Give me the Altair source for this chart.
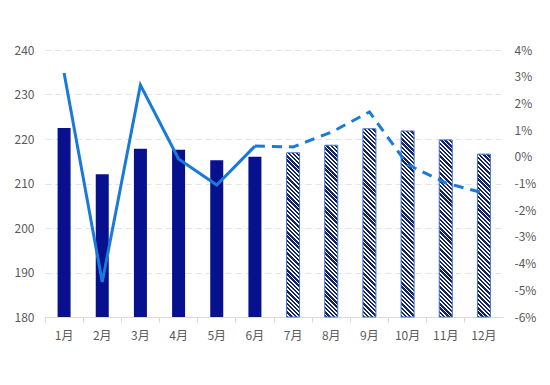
import math
import altair as alt
import pandas as pd

months = ["1月", "2月", "3月", "4月", "5月", "6月", "7月", "8月", "9月", "10月", "11月", "12月"]
volume = [222.5, 212.1, 217.8, 217.6, 215.2, 216.0, 216.9, 218.6, 222.3, 221.8, 219.8, 216.6]
growth = [3.14, -4.69, 2.69, -0.08, -1.06, 0.40, 0.37, 0.92, 1.68, -0.29, -0.98, -1.36]
actual_months = 6

left_ticks = [180, 190, 200, 210, 220, 230, 240]
right_ticks = [-6, -5, -4, -3, -2, -1, 0, 1, 2, 3, 4]

W, H = 458, 267
BAR_W = 13
FONT = "Noto Sans CJK SC"
LABEL_COLOR = "#595959"

df = pd.DataFrame({
    "month": months,
    "volume": volume,
    "growth": growth,
    "idx": list(range(1, len(months) + 1)),
})

x_enc = alt.X("month:N", sort=months, title=None,
              scale=alt.Scale(paddingInner=0, paddingOuter=0),
              axis=alt.Axis(labelAngle=0, labelFont=FONT, labelFontSize=12,
                            labelColor=LABEL_COLOR, domainColor="#d9d9d9",
                            tickColor="#d9d9d9", tickSize=5, bandPosition=0,
                            labelPadding=8, grid=False))

y_left = alt.Y("volume:Q", title=None,
               scale=alt.Scale(domain=[180, 240], nice=False, zero=False),
               axis=alt.Axis(values=left_ticks, labelFont=FONT, labelFontSize=12,
                             labelColor=LABEL_COLOR, domain=False, ticks=False,
                             labelPadding=11, grid=True, gridColor="#e3e3e3",
                             gridDash=[6, 4], gridWidth=1))
y2_base = alt.Y2(datum=180)

# actual bars
actual = alt.Chart(df).transform_filter(f"datum.idx <= {actual_months}").mark_bar(
    size=BAR_W, color="#07118e").encode(x=x_enc, y=y_left, y2=y2_base)

NAVY = "#14226c"
WHITE = "#ffffff"


def hatch_gradient(value):
    h = (value - 180) / 60 * H
    w = BAR_W
    r = h / w
    a = (1 + r) / (1 + r * r)
    period = 3.0
    n = max(1, int(round((w + h) / (math.sqrt(2) * period))))
    stops = []
    for k in range(n):
        t0 = k / n
        t1 = (k + 0.55) / n
        t2 = (k + 1) / n
        stops += [alt.GradientStop(offset=t0, color=NAVY),
                  alt.GradientStop(offset=t1, color=NAVY),
                  alt.GradientStop(offset=t1, color=WHITE),
                  alt.GradientStop(offset=t2, color=WHITE)]
    return alt.LinearGradient(gradient="linear", stops=stops,
                              x1=0, y1=1, x2=a, y2=1 - a * r)


forecast_layers = []
for i in range(actual_months, len(months)):
    forecast_layers.append(
        alt.Chart(df).transform_filter(f"datum.idx == {i + 1}").mark_bar(
            size=BAR_W, fill=hatch_gradient(volume[i]), stroke="#3f72c6",
            strokeWidth=1).encode(x=x_enc, y=y_left, y2=y2_base)
    )

bars = alt.layer(actual, *forecast_layers)

y_right = alt.Y("growth:Q", title=None,
                scale=alt.Scale(domain=[-6, 4], nice=False, zero=False),
                axis=alt.Axis(orient="right", values=right_ticks,
                              labelExpr="datum.value + '%'", labelFont=FONT,
                              labelFontSize=12, labelColor=LABEL_COLOR,
                              domain=False, ticks=False, labelPadding=11,
                              grid=False))

LINE_COLOR = "#1a7ad9"
solid = alt.Chart(df).transform_filter(f"datum.idx <= {actual_months}").mark_line(
    color=LINE_COLOR, strokeWidth=3).encode(x=x_enc, y=y_right)
dashed = alt.Chart(df).transform_filter(f"datum.idx >= {actual_months}").mark_line(
    color=LINE_COLOR, strokeWidth=3, strokeDash=[10, 7]).encode(x=x_enc, y=y_right)

lines = alt.layer(solid, dashed)

chart = alt.layer(bars, lines).resolve_scale(y="independent").properties(
    width=W, height=H,
    autosize=alt.AutoSizeParams(type="none"),
    padding={"left": 45, "top": 50, "right": 47, "bottom": 68},
    view=alt.ViewBackground(stroke="transparent", strokeWidth=0),
).configure_view(stroke="transparent", strokeWidth=0).configure(background="white")

chart.save("out.html", embed_options={"renderer": "svg", "actions": False})
